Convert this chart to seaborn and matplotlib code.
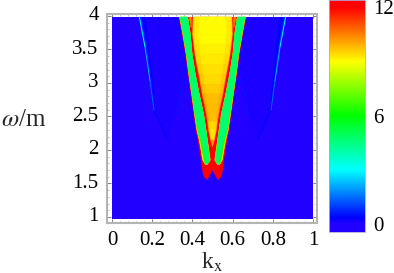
import numpy as np
import seaborn as sns
import matplotlib.pyplot as plt
from matplotlib.colors import LinearSegmentedColormap

# values: half widths of the bands around k = 0.5
omega_outer = [3.985, 3.73, 3.43, 3.13, 2.84, 2.54, 2.3, 2.15, 2.0, 1.85, 1.68, 1.6, 1.55]
half_outer = [.168, .152, .135, .122, .108, .094, .083, .073, .065, .057, .050, .043, .027]
omega_tip_inner = [1.55, 1.62, 1.66, 1.70]
tip_inner = [.027, .014, .006, 0]

omega_arm = [3.985, 3.73, 3.43, 3.13, 2.84, 2.54, 2.3, 2.15, 2.0, 1.85, 1.78]
half_arm_out = [.164, .148, .131, .118, .104, .090, .078, .066, .057, .049, .035]
half_arm_in = [.123, .110, .101, .085, .066, .044, .032, .025, .018, .011, .026]
arm_rim = [.004, .004, .004, .004, .004, .005, .006, .008, .010, .012, .002]

omega_core = [3.985, 3.85, 3.73, 3.58, 3.43, 3.28, 3.13, 2.98, 2.84, 2.69, 2.54, 2.42, 2.3, 2.15, 2.05]
half_core = [.097, .099, .100, .094, .088, .079, .069, .060, .052, .041, .031, .025, .020, .010, 0]
core_values = [9.0, 9.0, 9.0, 9.1, 9.2, 9.3, 9.4, 9.55, 9.7, 9.75, 9.7, 9.4, 9.2, 10.2]

omega_side_out = [3.985, 3.54, 3.03, 2.59, 2.15]
k_side_out = [.136, .164, .189, .209, .275]
side_glow = [.030, .022, .014, .005, 0]
side_glow_thin = [.010, .008, .005, .002, 0]
omega_side_in = [2.15, 2.54, 2.79, 3.18, 3.985]
k_side_in = [.275, .322, .338, .36, .40]
side_edge_values = [3.0, 2.2, 1.4, 0.3]

x_ticks = [0, 0.2, 0.4, 0.6, 0.8, 1]
x_labels = ['0', '0.2', '0.4', '0.6', '0.8', '1']
y_ticks = [1, 1.5, 2, 2.5, 3, 3.5, 4]
y_labels = ['1', '1.5', '2', '2.5', '3', '3.5', '4']
bar_ticks = [0, 6, 12]
field = [[0]]

sns.set_style('white')
plt.rcParams['font.family'] = ['Liberation Serif', 'DejaVu Serif']
plt.rcParams['mathtext.fontset'] = 'stix'

W, H = 394, 273
VMIN, VMAX = -0.44, 12.39
TOP, BOT = 3.985, 0.97


def pos(v):
    return (v - VMIN) / (VMAX - VMIN)


cmap = LinearSegmentedColormap.from_list('rainbow_bar', [
    (0, '#2200ff'), (pos(0), '#2200ff'), (pos(0.35), '#0000ff'), (pos(3), '#00ffff'),
    (pos(6), '#00ff00'), (pos(9), '#ffff00'), (pos(12), '#ff0000'), (1, '#ff0000')], N=512)


def col(v):
    return cmap((v - VMIN) / (VMAX - VMIN))


def row(w):
    return (TOP - np.asarray(w, dtype=float)) / (TOP - BOT)


def band(wo, do, wi, di, v, z):
    # symmetric pair of arms between two edges
    for sign in (-1, 1):
        xs = np.r_[.5 + sign * np.asarray(do), .5 + sign * np.asarray(di)[::-1]]
        ys = np.r_[row(wo), row(wi)[::-1]]
        ax.fill(xs, ys, color=col(v), lw=0.3, zorder=z)


fig = plt.figure(figsize=(W / 100, H / 100), dpi=100)
ax = fig.add_axes([107 / W, (H - 223) / H, 210 / W, 209 / H])
cax = fig.add_axes([329 / W, (H - 232) / H, 36 / W, 232 / H])

sns.heatmap(field, ax=ax, cbar_ax=cax, cmap=cmap, vmin=VMIN, vmax=VMAX,
            cbar_kws={'ticks': bar_ticks})

# faint side parabolas
for flip in (False, True):
    ko = np.array(k_side_out)
    ki = np.array(k_side_in)
    fx = (lambda a: 1 - a) if flip else (lambda a: a)
    yo = row(omega_side_out)
    ax.fill(fx(np.r_[ko, ki[1:]]), np.r_[yo, row(omega_side_in[1:])], color=col(0.08), lw=0, zorder=2)
    ax.fill(fx(np.r_[ko, (ko + side_glow)[::-1]]), np.r_[yo, yo[::-1]], color=col(0.3), lw=0, zorder=2.1)
    ax.fill(fx(np.r_[ko, (ko + side_glow_thin)[::-1]]), np.r_[yo, yo[::-1]], color=col(0.8), lw=0, zorder=2.2)
    for i, v in enumerate(side_edge_values):
        ax.plot(fx(ko[i:i + 2]), row(omega_side_out[i:i + 2]), color=col(v), lw=0.7, zorder=2.5)
    ax.plot(fx(ki[1:4]), row(omega_side_in[1:4]), color=col(0.6), lw=0.6, zorder=2.5)

# main V, red outside
outline_x = np.r_[.5 - np.array(half_outer), .5 - np.array(tip_inner),
                  .5 + np.array(tip_inner)[::-1], .5 + np.array(half_outer)[::-1]]
outline_y = np.r_[row(omega_outer), row(omega_tip_inner), row(omega_tip_inner)[::-1], row(omega_outer)[::-1]]
ax.fill(outline_x, outline_y, color=col(12), lw=0, zorder=3)

# arms: yellow rim, green, spring green
arm_out = np.array(half_arm_out)
arm_in = np.array(half_arm_in)
rim = np.array(arm_rim)
band(omega_arm, arm_out, omega_arm, arm_in, 8.8, 4)
band(omega_arm, arm_out - rim * .5, omega_arm, arm_in + rim * .2, 6.2, 4.2)
band(omega_arm, arm_out - rim * 1.2, omega_arm, arm_in + rim * .5, 4.7, 4.4)

# orange middle of the red strip at the top
band([3.985, 3.83], [.116, .107], [3.985, 3.83], [.105, .105], 10.5, 5)

# yellow core, strip by strip
wc = np.array(omega_core)
dc = np.array(half_core)
for i, v in enumerate(core_values):
    w = wc[i:i + 2]
    d = dc[i:i + 2]
    ax.fill(np.r_[.5 - d, (.5 + d)[::-1]], np.r_[row(w), row(w)[::-1]], color=col(10.4), lw=0.3, zorder=6)
    d2 = np.maximum(d - .003, 0)
    ax.fill(np.r_[.5 - d2, (.5 + d2)[::-1]], np.r_[row(w), row(w)[::-1]], color=col(v + 0.25), lw=0.3, zorder=6.1)
    d3 = d2 * 0.7
    ax.fill(np.r_[.5 - d3, (.5 + d3)[::-1]], np.r_[row(w), row(w)[::-1]], color=col(v + 0.05), lw=0.3, zorder=6.2)

# frame and ticks
ax.set_xlim(-5 / 201, 205 / 201)
ax.set_ylim(206 / 202, -3 / 202)
for s in ax.spines.values():
    s.set_visible(True)
    s.set_color('#b4b4b4')
    s.set_linewidth(1.5)
ax.set_xticks(x_ticks, x_labels, rotation=0)
ax.set_yticks(row(y_ticks), y_labels, rotation=0)
ax.set_xticks(np.arange(0, 1.01, 0.04), minor=True)
ax.set_yticks(row(np.arange(1, 4.01, 0.1)), minor=True)
ax.tick_params(axis='both', which='major', direction='in', length=3, width=0.7, color='#808080',
               labelsize=15, pad=6, bottom=True, left=True, top=True, right=True, labelcolor='black')
ax.tick_params(axis='both', which='minor', direction='in', length=1.5, width=0.5, color='#a0a0a0',
               bottom=True, left=True, top=True, right=True)

fig.text(212 / W, 1 - 262 / H, r'k$_{\mathrm{x}}$', fontsize=17, ha='center', va='center')
fig.text(24 / W, 1 - 120 / H, r'$\omega$/m', fontsize=18, ha='center', va='center')

# colour bar
cbar = ax.collections[0].colorbar
cbar.ax.tick_params(length=0, labelsize=15, pad=6, labelcolor='black')
cbar.outline.set_edgecolor('#b0a8e0')
cbar.outline.set_linewidth(0.6)

fig.savefig('out.png', dpi=100)
